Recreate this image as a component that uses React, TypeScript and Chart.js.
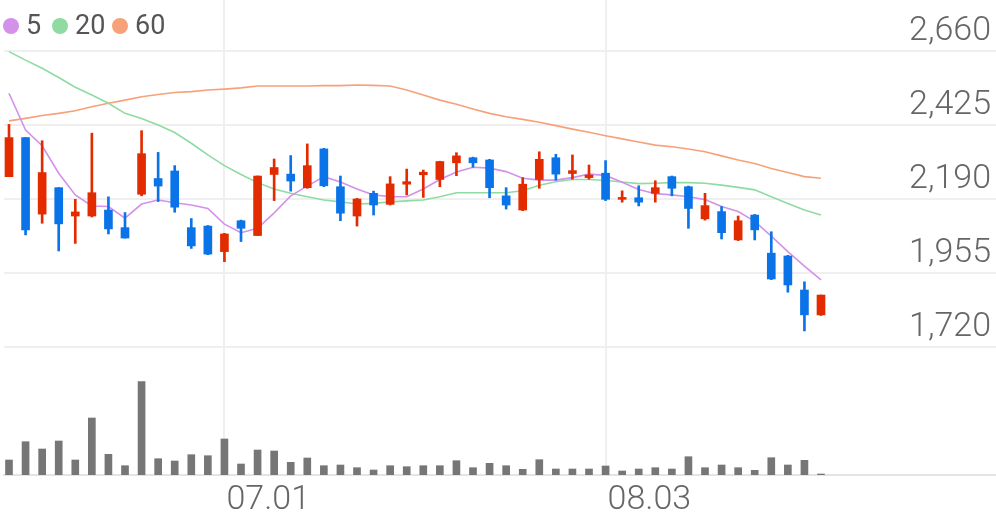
import React, { useEffect, useRef } from 'react';
import { Chart, registerables } from 'chart.js';

Chart.register(...registerables);

// ---- data ----
const opens = [2261, 2385, 2142, 2226, 2136, 2136, 2155, 2099, 2205, 2255,
  2279, 2099, 2104, 2023, 2121, 2074, 2268, 2269, 2226, 2349,
  2229, 2136, 2208, 2173, 2237, 2267, 2252, 2305, 2321, 2314,
  2200, 2155, 2252, 2321, 2271, 2258, 2272, 2189, 2194, 2208,
  2261, 2229, 2127, 2150, 2060, 2139, 2018, 2009, 1901, 1822];
const highs = [2427, 2385, 2375, 2226, 2189, 2399, 2197, 2147, 2407, 2338,
  2296, 2128, 2106, 2081, 2123, 2263, 2317, 2328, 2365, 2351,
  2263, 2192, 2215, 2261, 2285, 2282, 2310, 2337, 2323, 2316,
  2226, 2258, 2340, 2332, 2330, 2298, 2312, 2216, 2232, 2248,
  2263, 2231, 2208, 2166, 2136, 2141, 2086, 2011, 1927, 1885];
const lows = [2261, 2076, 2113, 2025, 2049, 2133, 2079, 2066, 2200, 2182,
  2148, 2033, 2013, 1991, 2055, 2074, 2185, 2215, 2224, 2229,
  2121, 2104, 2139, 2171, 2203, 2195, 2229, 2264, 2291, 2194,
  2158, 2153, 2224, 2250, 2253, 2253, 2185, 2180, 2168, 2180,
  2200, 2097, 2123, 2063, 2058, 2060, 1934, 1894, 1771, 1820];
const closes = [2385, 2092, 2274, 2111, 2149, 2210, 2095, 2066, 2334, 2231,
  2164, 2041, 2015, 2079, 2097, 2263, 2290, 2247, 2296, 2232,
  2145, 2190, 2171, 2238, 2245, 2275, 2309, 2327, 2305, 2226,
  2171, 2237, 2316, 2269, 2280, 2266, 2189, 2195, 2180, 2226,
  2224, 2160, 2169, 2083, 2121, 2092, 1936, 1917, 1822, 1885];
const volumes = [150, 333, 260, 340, 150, 570, 207, 93, 933, 163,
  140, 203, 193, 360, 110, 250, 240, 127, 170, 93,
  100, 73, 50, 93, 83, 93, 93, 143, 73, 117,
  93, 57, 153, 60, 60, 60, 90, 40, 60, 73,
  60, 183, 73, 100, 73, 47, 173, 100, 147, 10];
const ma5 = [2526, 2409, 2359, 2272, 2203, 2168, 2166, 2129, 2174, 2187,
  2178, 2171, 2160, 2110, 2083, 2097, 2146, 2200, 2231, 2261,
  2244, 2222, 2203, 2197, 2197, 2222, 2252, 2276, 2291, 2288,
  2277, 2256, 2250, 2250, 2258, 2269, 2265, 2243, 2220, 2207,
  2203, 2197, 2188, 2166, 2150, 2119, 2072, 2023, 1977, 1933];
const ma20 = [2658, 2631, 2605, 2576, 2545, 2520, 2494, 2462, 2446, 2425,
  2401, 2367, 2330, 2296, 2268, 2242, 2222, 2208, 2197, 2187,
  2181, 2174, 2176, 2181, 2184, 2187, 2197, 2210, 2210, 2210,
  2210, 2216, 2234, 2245, 2252, 2252, 2249, 2244, 2239, 2240,
  2242, 2242, 2240, 2234, 2227, 2219, 2197, 2176, 2155, 2139];
const ma60 = [2438, 2446, 2455, 2462, 2470, 2483, 2494, 2504, 2515, 2522,
  2528, 2531, 2536, 2539, 2543, 2549, 2549, 2549, 2549, 2550,
  2550, 2552, 2551, 2549, 2536, 2520, 2504, 2491, 2476, 2462,
  2451, 2443, 2434, 2423, 2412, 2402, 2391, 2381, 2371, 2361,
  2356, 2349, 2340, 2327, 2314, 2303, 2287, 2274, 2261, 2256];
const priceTicks = [1720, 1955, 2190, 2425, 2660];
const xTickIndex = [13, 36];
const xTickLabels = ['07.01', '08.03'];
const legendLabels = ['5', '20', '60'];

// ---- styles ----
const UP = '#e32b00';
const DOWN = '#0a73e8';
const MA_COLORS = ['#d491ea', '#8fdba2', '#f7a17a'];
const VOL = '#767676';
const GRID = '#efefef';
const TEXT = '#666666';
const FONT = 'Roboto, "Noto Sans", sans-serif';

export default function App() {
  const ref = useRef<HTMLCanvasElement>(null);

  useEffect(() => {
    document.body.style.margin = '0';
    const idx = closes.map((_, i) => i);
    const colors = closes.map((c, i) => (c >= opens[i] ? UP : DOWN));
    const maSets = [ma5, ma20, ma60];
    const chart = new Chart(ref.current as HTMLCanvasElement, {
      type: 'bar',
      data: {
        datasets: [
          {
            type: 'bar', label: 'body',
            data: idx.map((i) => ({ x: i, y: [opens[i], closes[i]] })) as any,
            backgroundColor: colors, barThickness: 8, grouped: false,
            yAxisID: 'y', order: 1,
          },
          {
            type: 'bar', label: 'wick',
            data: idx.map((i) => ({ x: i, y: [lows[i], highs[i]] })) as any,
            backgroundColor: colors, barThickness: 2, grouped: false,
            yAxisID: 'y', order: 2,
          },
          ...maSets.map((arr, k) => ({
            type: 'line' as const, label: legendLabels[k],
            data: idx.map((i) => ({ x: i, y: arr[i] })),
            borderColor: MA_COLORS[k], backgroundColor: MA_COLORS[k],
            borderWidth: 1.6, pointRadius: 0, tension: 0,
            yAxisID: 'y', order: 3 + k,
          })),
          {
            type: 'bar', label: 'volume',
            data: idx.map((i) => ({ x: i, y: volumes[i] })) as any,
            backgroundColor: VOL, barThickness: 7, grouped: false,
            yAxisID: 'yv', order: 7,
          },
        ] as any,
      },
      options: {
        animation: false,
        responsive: false,
        maintainAspectRatio: false,
        layout: { padding: { left: 4, top: 0, right: 0, bottom: 0 } },
        plugins: { legend: { display: false }, tooltip: { enabled: false } },
        scales: {
          x: {
            type: 'linear', min: -0.3017, max: 59.56, offset: false, bounds: 'data',
            afterBuildTicks: (s: any) => { s.ticks = xTickIndex.map((v) => ({ value: v })); },
            afterFit: (s: any) => { s.height = 44; s.paddingLeft = 0; s.paddingRight = 0; },
            ticks: {
              autoSkip: false, maxRotation: 0, minRotation: 0, align: 'start', padding: 5,
              labelOffset: 2,
              font: { family: FONT, size: 34, weight: '300' as any }, color: TEXT,
              callback: (v: any) => {
                const j = xTickIndex.indexOf(Number(v));
                return j >= 0 ? xTickLabels[j] : '';
              },
            },
            grid: { color: GRID, lineWidth: 2, drawTicks: false, offset: false },
            border: { display: true, color: '#e4e4e4', width: 2 },
          },
          y: {
            type: 'linear', position: 'right', min: 1313.5, max: 2822, bounds: 'data',
            afterBuildTicks: (s: any) => { s.ticks = priceTicks.map((v) => ({ value: v })); },
            afterFit: (s: any) => { s.width = 0; s.paddingTop = 0; s.paddingBottom = 0; },
            ticks: {
              mirror: true, padding: -5, labelOffset: -20,
              font: { family: FONT, size: 34, weight: '300' as any }, color: TEXT,
              callback: (v: any) => Number(v).toLocaleString('en-US'),
            },
            grid: { color: GRID, lineWidth: 2, drawTicks: false },
            border: { display: false },
          },
          yv: { type: 'linear', display: false, min: 0, max: 4750 },
        } as any,
      },
    });
    return () => chart.destroy();
  }, []);

  const legendPos = [
    { c: 3, t: 26 },
    { c: 52, t: 75 },
    { c: 112, t: 135 },
  ];

  return (
    <div style={{ position: 'absolute', left: 0, top: 0, width: 996, height: 519 }}>
      <canvas ref={ref} width={996} height={519} style={{ display: 'block' }} />
      {legendLabels.map((lab, k) => (
        <React.Fragment key={lab}>
          <span
            style={{
              position: 'absolute', left: legendPos[k].c, top: 18, width: 16, height: 16,
              borderRadius: '50%', background: MA_COLORS[k],
            }}
          />
          <span
            style={{
              position: 'absolute', left: legendPos[k].t, top: 9, fontFamily: FONT,
              fontSize: 27, fontWeight: 400, color: '#555', lineHeight: 'normal',
              whiteSpace: 'nowrap',
            }}
          >
            {lab}
          </span>
        </React.Fragment>
      ))}
    </div>
  );
}
